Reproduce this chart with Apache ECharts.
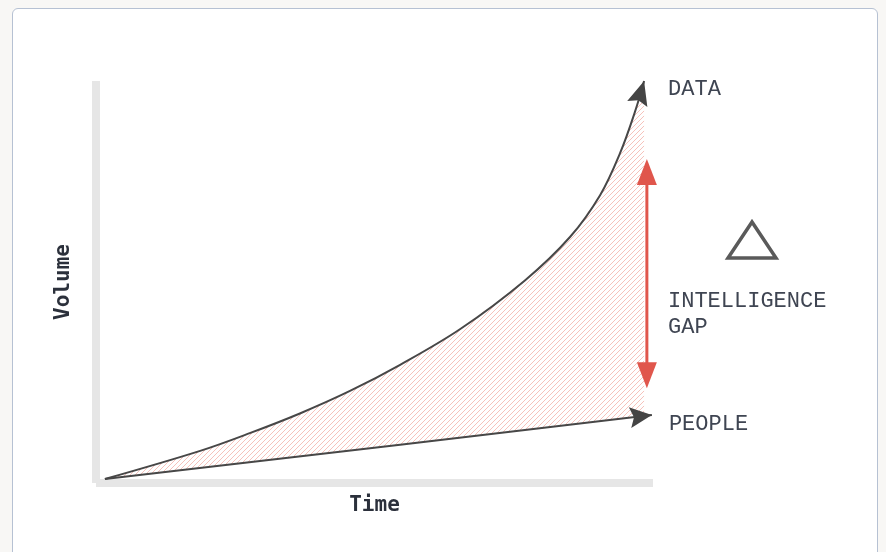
<!DOCTYPE html>
<html lang="en">
  <head>
    <meta charset="UTF-8" />
    <title>Intelligence gap</title>
    <script src="https://cdn.jsdelivr.net/npm/echarts@6/dist/echarts.min.js"></script>
    <style>
      body { margin: 0; background: #f8f7f5; }
      #card {
        position: absolute; left: 12px; top: 8px; width: 864px; height: 600px;
        background: #fff; border: 1.5px solid #b6c1d3; border-radius: 6px;
      }
      #main { position: absolute; left: 0; top: 0; width: 886px; height: 552px; }
    </style>
  </head>
  <body>
    <div id="card"></div>
    <div id="main"></div>
    <script>
      // DATA curve (time, volume)
      var dataTime = [1.6, 18.7, 27.6, 36.6, 45.6, 54.6, 65.4, 77.0, 85.1, 90.5, 94.1, 96.8, 98.4];
      var dataVolume = [1.0, 8.0, 12.4, 17.3, 22.9, 29.4, 38.3, 50.4, 61.2, 71.6, 82.1, 92.5, 100.0];
      // PEOPLE line
      var peopleTime = [1.6, 54.6, 99.8];
      var peopleVolume = [1.0, 9.5, 16.9];
      // red gap arrow
      var gapTime = 98.9;
      var gapRange = [23.6, 80.6];

      var lineColor = '#474747';
      var gapColor = '#e0564c';
      var labelFont = 'Liberation Mono';

      function pairs(xs, ys) {
        return xs.map(function (x, i) { return [x, ys[i]]; });
      }

      // hatch tile
      var tile = document.createElement('canvas');
      tile.width = 5;
      tile.height = 5;
      var tctx = tile.getContext('2d');
      tctx.fillStyle = '#f6c2bb';
      for (var i = 0; i < 5; i++) tctx.fillRect(i, 4 - i, 1, 1);

      function arrowHead(tip, from, len, wid, notch) {
        var dx = tip[0] - from[0], dy = tip[1] - from[1];
        var d = Math.sqrt(dx * dx + dy * dy);
        dx /= d; dy /= d;
        var nx = -dy, ny = dx;
        var bx = tip[0] - dx * len, by = tip[1] - dy * len;
        return [
          tip,
          [bx + nx * wid / 2, by + ny * wid / 2],
          [tip[0] - dx * (len - notch), tip[1] - dy * (len - notch)],
          [bx - nx * wid / 2, by - ny * wid / 2]
        ];
      }

      var mCharts = echarts.init(document.getElementById('main'));
      var option = {
        animation: false,
        grid: { left: 96, top: 81, right: 233, bottom: 69 },
        xAxis: {
          type: 'value', min: 0, max: 100,
          name: 'Time', nameLocation: 'middle', nameGap: 12,
          nameTextStyle: { fontFamily: 'DejaVu Sans Mono', fontWeight: 'bold', fontSize: 21, color: '#2b303b' },
          axisLine: { show: true, lineStyle: { color: '#e6e6e6', width: 8, cap: 'butt' } },
          axisTick: { show: false }, axisLabel: { show: false }, splitLine: { show: false }
        },
        yAxis: {
          type: 'value', min: 0, max: 100,
          name: 'Volume', nameLocation: 'middle', nameGap: 22, nameRotate: 90,
          nameTextStyle: { fontFamily: 'DejaVu Sans Mono', fontWeight: 'bold', fontSize: 21, color: '#2b303b' },
          axisLine: { show: true, lineStyle: { color: '#e6e6e6', width: 8, cap: 'butt' } },
          axisTick: { show: false }, axisLabel: { show: false }, splitLine: { show: false }
        },
        series: [
          {
            name: 'hatch',
            type: 'custom',
            z: 1,
            data: pairs(dataTime, dataVolume),
            renderItem: function (params, api) {
              if (params.dataIndex !== 0) return;
              var top = pairs(dataTime, dataVolume).map(function (p) { return api.coord(p); });
              var low = pairs(peopleTime, peopleVolume).map(function (p) { return api.coord(p); });
              var tip = top[top.length - 1];
              var pts = top.slice();
              // people line height under the data tip
              var yEdge = low[low.length - 1][1];
              for (var k = 1; k < low.length; k++) {
                if (low[k][0] >= tip[0]) {
                  var t = (tip[0] - low[k - 1][0]) / (low[k][0] - low[k - 1][0]);
                  yEdge = low[k - 1][1] + t * (low[k][1] - low[k - 1][1]);
                  break;
                }
              }
              pts.push([tip[0], yEdge]);
              for (var j = low.length - 1; j >= 0; j--) {
                if (low[j][0] < tip[0]) pts.push(low[j]);
              }
              return {
                type: 'polygon',
                shape: { points: pts },
                style: { fill: { image: tile, repeat: 'repeat' }, stroke: null }
              };
            }
          },
          {
            name: 'DATA',
            type: 'line',
            z: 2,
            smooth: 0.35,
            symbol: 'none',
            data: pairs(dataTime, dataVolume),
            lineStyle: { color: lineColor, width: 2 },
            endLabel: {
              show: true, formatter: '{a}', distance: 0, offset: [24, 8],
              fontFamily: labelFont, fontSize: 22, color: '#3f4552'
            }
          },
          {
            name: 'PEOPLE',
            type: 'line',
            z: 2,
            symbol: 'none',
            data: pairs(peopleTime, peopleVolume),
            lineStyle: { color: lineColor, width: 2 },
            endLabel: {
              show: true, formatter: '{a}', distance: 0, offset: [17, 9],
              fontFamily: labelFont, fontSize: 22, color: '#3f4552'
            }
          },
          {
            name: 'arrows',
            type: 'custom',
            z: 5,
            data: [[gapTime, gapRange[0], gapRange[1]]],
            renderItem: function (params, api) {
              var d = dataTime.length - 1;
              var dTip = api.coord([dataTime[d], dataVolume[d]]);
              var dPrev = api.coord([dataTime[d - 1], dataVolume[d - 1]]);
              var p = peopleTime.length - 1;
              var pTip = api.coord([peopleTime[p], peopleVolume[p]]);
              var pPrev = api.coord([peopleTime[0], peopleVolume[0]]);
              var gLow = api.coord([api.value(0), api.value(1)]);
              var gHigh = api.coord([api.value(0), api.value(2)]);
              var headLen = 26;
              return {
                type: 'group',
                children: [
                  { type: 'polygon', shape: { points: arrowHead(dTip, dPrev, 24, 21, 4) }, style: { fill: '#444' } },
                  { type: 'polygon', shape: { points: arrowHead(pTip, pPrev, 22, 21, 4) }, style: { fill: '#444' } },
                  {
                    type: 'line',
                    shape: { x1: gHigh[0], y1: gHigh[1] + headLen - 2, x2: gLow[0], y2: gLow[1] - headLen + 2 },
                    style: { stroke: gapColor, lineWidth: 3 }
                  },
                  { type: 'polygon', shape: { points: arrowHead(gHigh, [gHigh[0], gHigh[1] + 10], headLen, 20, 0) }, style: { fill: gapColor } },
                  { type: 'polygon', shape: { points: arrowHead(gLow, [gLow[0], gLow[1] - 10], headLen, 20, 0) }, style: { fill: gapColor } }
                ]
              };
            }
          }
        ],
        graphic: [
          {
            type: 'polygon',
            shape: { points: [[752, 222], [728, 258], [776, 258]] },
            style: { fill: null, stroke: '#5a5a5a', lineWidth: 3.5, lineJoin: 'miter' }
          },
          {
            type: 'text',
            left: 668, top: 288,
            style: {
              text: 'INTELLIGENCE\nGAP', fontFamily: labelFont, fontSize: 22,
              lineHeight: 26, fill: '#3f4552'
            }
          }
        ]
      };
      mCharts.setOption(option);
    </script>
  </body>
</html>
